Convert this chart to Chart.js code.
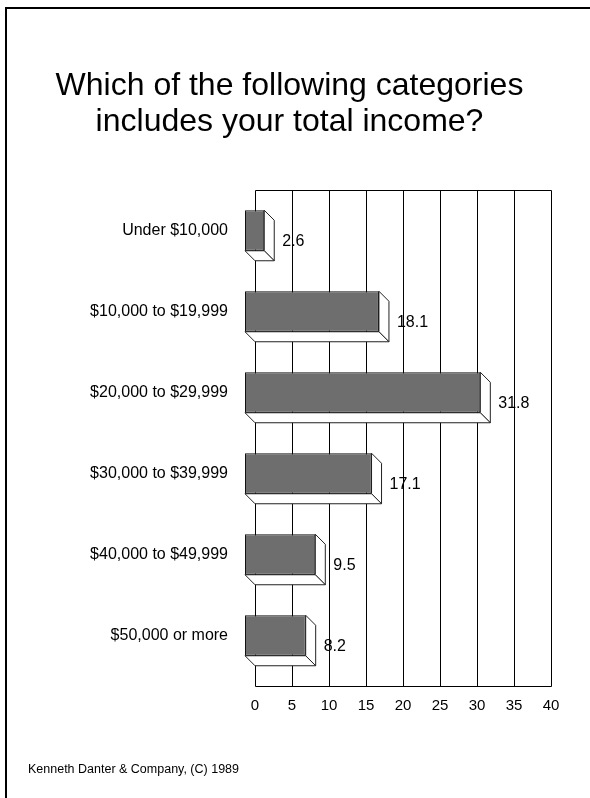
<!DOCTYPE html>
<html><head><meta charset="utf-8">
<script src="https://cdn.jsdelivr.net/npm/chart.js@4"></script>
<style>html,body{margin:0;padding:0;background:#fff;} canvas{display:block;}</style>
</head><body>
<canvas id="c" width="590" height="798"></canvas>
<script>
const titleLines = ['Which of the following categories', 'includes your total income?'];
const categories = ['Under $10,000', '$10,000 to $19,999', '$20,000 to $29,999', '$30,000 to $39,999', '$40,000 to $49,999', '$50,000 or more'];
const percentages = [2.6, 18.1, 31.8, 17.1, 9.5, 8.2];
const xTicks = [0, 5, 10, 15, 20, 25, 30, 35, 40];
const footerText = 'Kenneth Danter & Company, (C) 1989';

const DEPTH = 10;
const FONT = "'Liberation Sans', Arial, Helvetica, sans-serif";

const pagePlugin = {
  id: 'page',
  beforeDraw(chart) {
    const ctx = chart.ctx;
    ctx.save();
    ctx.fillStyle = '#fff';
    ctx.fillRect(0, 0, chart.width, chart.height);
    ctx.fillStyle = '#000';
    ctx.fillRect(5, 7, chart.width - 5, 2);
    ctx.fillRect(5, 7, 2, chart.height - 7);
    ctx.restore();
  }
};

const threeD = {
  id: 'threeD',
  beforeDatasetsDraw(chart) {
    const {ctx, chartArea: a, scales: {x}} = chart;
    ctx.save();
    ctx.strokeStyle = '#000';
    ctx.lineWidth = 1;
    const top = Math.round(a.top - DEPTH) + 0.5;
    const bot = Math.round(a.bottom) + 0.5;
    const x0 = Math.round(x.getPixelForValue(x.min)) + 0.5;
    const x1 = Math.round(x.getPixelForValue(x.max)) + 0.5;
    ctx.beginPath();
    x.ticks.forEach(t => {
      const px = Math.round(x.getPixelForValue(t.value)) + 0.5;
      ctx.moveTo(px, top); ctx.lineTo(px, bot);
    });
    ctx.moveTo(x0, top); ctx.lineTo(x1, top);
    ctx.moveTo(x0, bot); ctx.lineTo(x1, bot);
    ctx.stroke();
    // side faces of the bars
    const meta = chart.getDatasetMeta(0);
    ctx.fillStyle = '#fff';
    ctx.strokeStyle = '#222';
    meta.data.forEach(el => {
      const xe = el.x, xb = el.base, yt = el.y - el.height / 2, yb = el.y + el.height / 2;
      // right face
      ctx.beginPath();
      ctx.moveTo(xe - DEPTH, yt - DEPTH);
      ctx.lineTo(xe, yt);
      ctx.lineTo(xe, yb);
      ctx.lineTo(xe - DEPTH, yb - DEPTH);
      ctx.closePath();
      ctx.fill(); ctx.stroke();
      // bottom face
      ctx.beginPath();
      ctx.moveTo(xb - DEPTH, yb - DEPTH);
      ctx.lineTo(xe - DEPTH, yb - DEPTH);
      ctx.lineTo(xe, yb);
      ctx.lineTo(xb, yb);
      ctx.closePath();
      ctx.fill(); ctx.stroke();
    });
    ctx.restore();
  },
  beforeDatasetDraw(chart) {
    chart.ctx.save();
    chart.ctx.translate(-DEPTH, -DEPTH);
  },
  afterDatasetDraw(chart) {
    chart.ctx.restore();
  },
  afterDatasetsDraw(chart) {
    const ctx = chart.ctx;
    const meta = chart.getDatasetMeta(0);
    ctx.save();
    ctx.fillStyle = '#000';
    ctx.font = '16px ' + FONT;
    ctx.textAlign = 'left';
    ctx.textBaseline = 'middle';
    meta.data.forEach((el, i) => {
      ctx.fillText(String(percentages[i]), el.x + 8, el.y + 1);
    });
    ctx.restore();
  }
};

new Chart(document.getElementById('c'), {
  type: 'bar',
  data: {
    labels: categories,
    datasets: [{
      data: percentages,
      backgroundColor: '#6e6e6e',
      borderColor: '#111',
      borderWidth: 1,
      borderSkipped: false,
      categoryPercentage: 1,
      barPercentage: 0.5,
      clip: false
    }]
  },
  options: {
    indexAxis: 'y',
    responsive: false,
    animation: false,
    devicePixelRatio: 1,
    layout: { padding: { left: 28, right: 39, top: 0, bottom: 0 } },
    plugins: {
      legend: { display: false },
      tooltip: { enabled: false },
      title: {
        display: true,
        text: titleLines,
        color: '#000',
        font: { family: FONT, size: 32, weight: 'normal', lineHeight: 1.125 },
        padding: { top: 68, bottom: 60 }
      },
      subtitle: {
        display: true,
        text: footerText,
        position: 'bottom',
        align: 'start',
        color: '#000',
        font: { family: FONT, size: 12.5, weight: 'normal', lineHeight: 1.2 },
        padding: { top: 36, bottom: 21 }
      }
    },
    scales: {
      x: {
        type: 'linear',
        min: 0,
        max: 40,
        afterBuildTicks: s => { s.ticks = xTicks.map(v => ({ value: v })); },
        grid: { display: false, drawTicks: false },
        border: { display: false },
        ticks: { color: '#000', font: { family: FONT, size: 15 }, padding: 11, maxRotation: 0, autoSkip: false }
      },
      y: {
        afterFit: s => { s.width = 227; },
        grid: { display: false, drawTicks: false },
        border: { display: false },
        ticks: { color: '#000', font: { family: FONT, size: 16 }, padding: 27, labelOffset: -DEPTH, autoSkip: false }
      }
    }
  },
  plugins: [pagePlugin, threeD]
});
</script>
</body></html>
